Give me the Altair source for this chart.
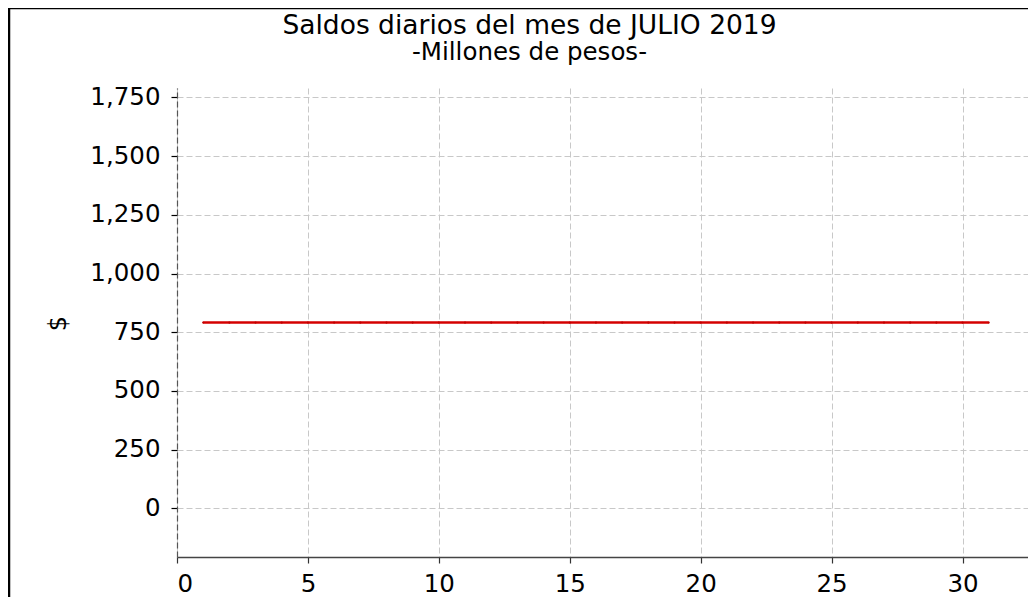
import altair as alt
import pandas as pd

days = list(range(1, 32))
saldos = [791] * 31

y_ticks = [0, 250, 500, 750, 1000, 1250, 1500, 1750]
x_ticks = [0, 5, 10, 15, 20, 25, 30]

df = pd.DataFrame({"dia": days, "saldo": saldos})

FONT = "DejaVu Sans"

line = alt.Chart(df).mark_line(color="#d40000", strokeWidth=2.5, clip=False,
                               point=alt.OverlayMarkDef(size=5, color="#c00000")).encode(
    x=alt.X("dia:Q", scale=alt.Scale(domain=[0, 32.5], nice=False, zero=False),
            axis=alt.Axis(values=x_ticks, title=None, grid=True, gridDash=[6, 3],
                          gridColor="#c8c8c8", gridWidth=1, domainColor="#444444",
                          domainWidth=1.5, tickColor="#333333", tickSize=6, tickWidth=1.2,
                          labelFontSize=24.5, labelFont=FONT, labelColor="#000000",
                          labelPadding=9, format="d")),
    y=alt.Y("saldo:Q", scale=alt.Scale(domain=[-207, 1790], nice=False, zero=False),
            axis=alt.Axis(values=y_ticks, title="$", grid=True, gridDash=[6, 3],
                          gridColor="#c8c8c8", gridWidth=1, domainColor="#555555",
                          domainDash=[6, 3], domainWidth=1.2, tickColor="#000000",
                          tickSize=6, tickWidth=1.2, labelFontSize=24.5, labelFont=FONT,
                          labelColor="#000000", labelPadding=11, format=",d",
                          titleFont=FONT, titleFontSize=24, titleFontWeight="normal",
                          titleColor="#000000", titleX=-119, titleY=235,
                          titleAlign="center", titleBaseline="middle", titleAngle=270)),
)

frame_df = pd.DataFrame({"k": [0]})
frame = alt.Chart(frame_df).mark_rect(fill=None, stroke="#000000", strokeWidth=2.5,
                                      clip=False).encode(
    x=alt.value(-168), x2=alt.value(880), y=alt.value(-80), y2=alt.value(600)
)

chart = alt.layer(frame, line).properties(
    width=851, height=469,
    padding={"left": 169, "top": 80, "right": 0, "bottom": 40},
    autosize=alt.AutoSizeParams(type="none"),
    title=alt.TitleParams(text="Saldos diarios del mes de JULIO 2019",
                          subtitle="-Millones de pesos-",
                          font=FONT, fontSize=26.5, fontWeight="normal", color="#000000",
                          subtitleFont=FONT, subtitleFontSize=24.5,
                          subtitleColor="#000000", subtitlePadding=2,
                          anchor="middle", dx=-73, offset=-58),
).configure_view(stroke=None)

chart.save("out.html", embed_options={"renderer": "svg", "actions": False})
